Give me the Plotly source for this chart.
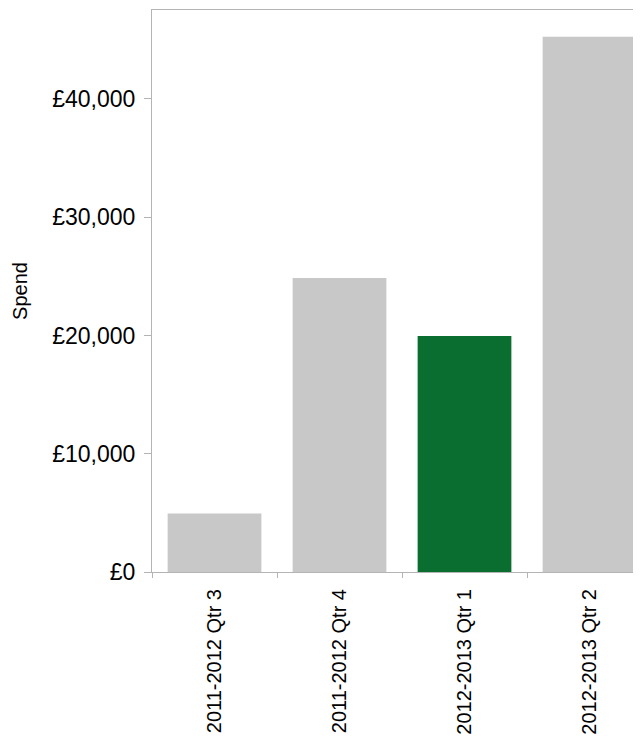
import plotly.graph_objects as go

categories = ["2011-2012 Qtr 3", "2011-2012 Qtr 4", "2012-2013 Qtr 1", "2012-2013 Qtr 2"]
spend = [4950, 24850, 19950, 45250]
bar_colors = ["#c8c8c8", "#c8c8c8", "#0b6e31", "#c8c8c8"]
y_tick_values = [0, 10000, 20000, 30000, 40000]
y_tick_labels = ["£0", "£10,000", "£20,000", "£30,000", "£40,000"]

fig = go.Figure(
    go.Bar(
        x=categories,
        y=spend,
        marker=dict(color=bar_colors, line=dict(width=0)),
        width=0.75,
        hoverinfo="x+y",
    )
)

axis_grey = "#b4b4b4"
font_family = "Liberation Sans, Arial, sans-serif"

fig.update_layout(
    width=633,
    height=730,
    margin=dict(l=144, r=0, t=2, b=166, autoexpand=False),
    plot_bgcolor="white",
    paper_bgcolor="white",
    showlegend=False,
    font=dict(family=font_family, color="#000000"),
    xaxis=dict(
        type="category",
        range=[-0.5, -0.5 + 489 / 125],
        showline=True,
        linecolor=axis_grey,
        linewidth=1,
        mirror=True,
        ticks="outside",
        tickson="boundaries",
        ticklen=5,
        tickcolor=axis_grey,
        tickangle=-90,
        ticklabelstandoff=8,
        tickfont=dict(size=20, family=font_family, color="#000000"),
        showgrid=False,
        zeroline=False,
    ),
    yaxis=dict(
        range=[0, 47520],
        tickvals=y_tick_values,
        ticktext=y_tick_labels,
        showline=True,
        linecolor=axis_grey,
        linewidth=1,
        ticks="outside",
        ticklen=7,
        tickcolor=axis_grey,
        ticklabelstandoff=4,
        tickfont=dict(size=23, family=font_family, color="#000000"),
        showgrid=False,
        zeroline=False,
        title=dict(text="Spend", font=dict(size=20, family=font_family, color="#000000"), standoff=19),
    ),
)

fig.write_html("out.html")
